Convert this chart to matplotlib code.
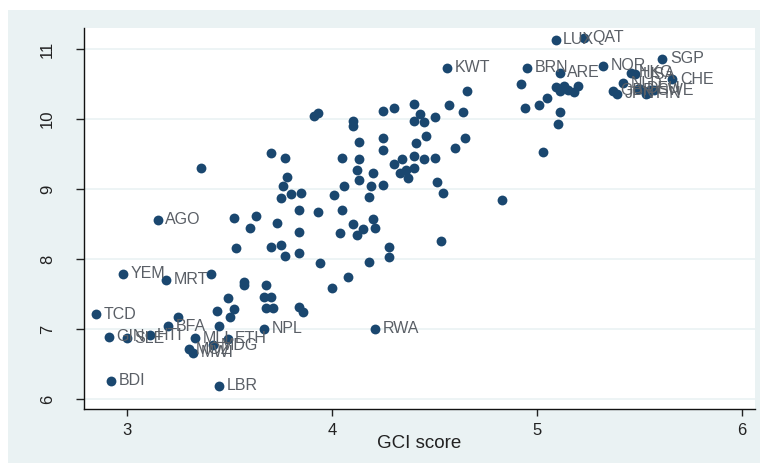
import matplotlib.pyplot as plt
import matplotlib.patches as patches

# unlabeled countries (GCI score, log GDP per capita)
gci = [3.36, 3.52, 3.60, 3.63, 3.73, 3.70, 3.77, 3.78, 3.76, 3.75,
       3.80, 3.85, 3.84, 3.93, 3.84, 3.53, 3.70, 3.75, 3.77, 3.84,
       3.94, 4.01, 4.05, 4.06, 4.05, 3.91, 3.93, 4.10, 4.10, 4.13,
       4.13, 4.12, 4.13, 4.20, 4.19, 4.25, 4.25, 4.25, 4.25, 4.30,
       4.30, 4.33, 4.10, 4.15, 4.20, 4.21, 4.04, 4.12, 4.18, 4.28,
       4.28, 4.18, 4.08, 4.00, 4.53, 4.40, 4.43, 4.40, 4.45, 4.50,
       4.57, 4.41, 4.46, 4.40, 4.45, 4.50, 4.34, 4.36, 4.37, 4.40,
       4.51, 4.54, 4.66, 4.64, 4.65, 4.60, 4.92, 4.94, 5.01, 5.05,
       5.09, 5.11, 5.13, 5.15, 5.18, 5.20, 5.11, 5.10, 5.03, 4.83,
       3.57, 3.57, 3.68, 3.67, 3.70, 3.68, 3.71, 3.49, 3.44, 3.52,
       3.50, 3.45, 3.84, 3.86, 3.41, 3.25, 5.49, 5.53, 5.57]
gdp = [9.30, 8.59, 8.44, 8.61, 8.51, 9.51, 9.44, 9.17, 9.04, 8.87,
       8.93, 8.94, 8.70, 8.67, 8.39, 8.16, 8.17, 8.20, 8.04, 8.09,
       7.94, 8.91, 9.44, 9.04, 8.70, 10.04, 10.09, 9.97, 9.90, 9.67,
       9.43, 9.27, 9.13, 9.23, 9.04, 9.06, 9.73, 9.56, 10.11, 10.16,
       9.36, 9.23, 8.50, 8.43, 8.57, 8.44, 8.37, 8.34, 8.89, 8.17,
       8.03, 7.96, 7.74, 7.59, 8.26, 10.21, 10.07, 9.97, 9.96, 10.03,
       10.20, 9.66, 9.76, 9.47, 9.43, 9.44, 9.43, 9.27, 9.16, 9.30,
       9.10, 8.94, 10.40, 10.10, 9.73, 9.59, 10.50, 10.16, 10.20, 10.30,
       10.46, 10.40, 10.47, 10.41, 10.39, 10.47, 10.10, 9.93, 9.53, 8.84,
       7.67, 7.63, 7.63, 7.46, 7.45, 7.30, 7.30, 7.44, 7.26, 7.29,
       7.17, 7.04, 7.31, 7.24, 7.79, 7.17, 10.43, 10.36, 10.41]

# labeled countries
codes = ["LUX", "QAT", "SGP", "KWT", "BRN", "ARE", "NOR", "HKG", "USA", "CHE",
         "NLD", "GBR", "JPN", "DEU", "SWE", "FIN",
         "AGO", "YEM", "MRT", "TCD", "BFA", "GIN", "SLE", "HTI", "MLI", "ETH",
         "MDG", "MOZ", "MWI", "BDI", "LBR", "NPL", "RWA"]
code_gci = [5.09, 5.23, 5.61, 4.56, 4.95, 5.11, 5.32, 5.46, 5.48, 5.66,
            5.42, 5.37, 5.39, 5.50, 5.55, 5.54,
            3.15, 2.98, 3.19, 2.85, 3.20, 2.91, 3.00, 3.11, 3.33, 3.49,
            3.42, 3.30, 3.32, 2.92, 3.45, 3.67, 4.21]
code_gdp = [11.13, 11.16, 10.86, 10.73, 10.73, 10.66, 10.76, 10.66, 10.64, 10.57,
            10.51, 10.40, 10.36, 10.43, 10.41, 10.37,
            8.56, 7.79, 7.70, 7.21, 7.04, 6.89, 6.87, 6.91, 6.87, 6.86,
            6.77, 6.71, 6.66, 6.26, 6.19, 7.00, 7.00]

xticks = [3, 4, 5, 6]
yticks = [6, 7, 8, 9, 10, 11]

plt.rcParams['font.family'] = ['Liberation Sans', 'DejaVu Sans']
navy = '#1a476f'
bg = '#eaf2f3'

fig = plt.figure(figsize=(7.62, 4.65), dpi=100, facecolor='white')
# Stata-style bluish-gray graph region
fig.patches.append(patches.Rectangle((8 / 762, 2 / 465), 752 / 762, 453 / 465,
                                     transform=fig.transFigure, facecolor=bg,
                                     edgecolor='none', zorder=-10))
ax = fig.add_axes([84 / 762, 56 / 465, 671 / 762, 381 / 465])
ax.set_facecolor('white')

ax.scatter(gci, gdp, s=50, color=navy, zorder=3, linewidths=0)
ax.scatter(code_gci, code_gdp, s=50, color=navy, zorder=3, linewidths=0)
for c, x, y in zip(codes, code_gci, code_gdp):
    ax.annotate(c, (x, y), xytext=(5.5, 0), textcoords='offset points',
                va='center', ha='left', fontsize=11.5, color='#5a5f66', zorder=4)

ax.set_xlim(2.79, 6.063)
ax.set_ylim(5.857, 11.3)
ax.set_xticks(xticks)
ax.set_yticks(yticks)
ax.tick_params(axis='x', length=5, width=1, pad=5, labelsize=12, colors='#222222')
ax.tick_params(axis='y', length=6, width=1, pad=15, labelsize=12, colors='#222222')
for lab in ax.get_yticklabels():
    lab.set_rotation(90)
    lab.set_va('center')
ax.grid(axis='y', color=bg, linewidth=1.2, zorder=1)
ax.set_axisbelow(True)
for s in ['top', 'right']:
    ax.spines[s].set_visible(False)
for s in ['left', 'bottom']:
    ax.spines[s].set_linewidth(1)
    ax.spines[s].set_color('#111111')

ax.set_xlabel('GCI score', fontsize=13.5, color='#222222')
ax.xaxis.set_label_coords(0.5, -(443 - 409) / 381)
ax.xaxis.label.set_va('center')

fig.savefig('out.png', dpi=100, facecolor='white')
